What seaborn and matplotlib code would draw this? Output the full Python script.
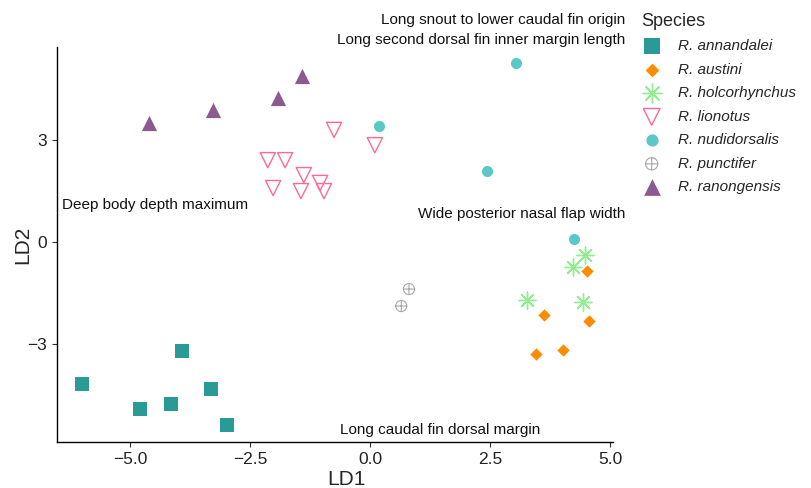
import pandas as pd
import matplotlib.pyplot as plt
from matplotlib.path import Path
import seaborn as sns

# LDA scores, one pair of lists per species
annandalei_ld1 = [-6.00, -4.79, -4.15, -3.92, -3.31, -2.98]
annandalei_ld2 = [-4.18, -4.91, -4.76, -3.21, -4.32, -5.38]

austini_ld1 = [4.52, 3.63, 4.56, 4.02, 3.46]
austini_ld2 = [-0.85, -2.15, -2.32, -3.18, -3.29]

holcorhynchus_ld1 = [4.48, 4.23, 3.27, 4.44]
holcorhynchus_ld2 = [-0.38, -0.74, -1.71, -1.76]

lionotus_ld1 = [-0.75, 0.10, -2.13, -1.77, -1.38, -2.02, -1.44, -1.04, -0.96]
lionotus_ld2 = [3.30, 2.85, 2.41, 2.41, 1.97, 1.59, 1.50, 1.74, 1.50]

nudidorsalis_ld1 = [0.19, 3.04, 2.44, 4.25]
nudidorsalis_ld2 = [3.41, 5.26, 2.09, 0.09]

punctifer_ld1 = [0.81, 0.65]
punctifer_ld2 = [-1.38, -1.88]

ranongensis_ld1 = [-4.60, -3.27, -1.92, -1.42]
ranongensis_ld2 = [3.50, 3.88, 4.24, 4.88]

species = ["R. annandalei", "R. austini", "R. holcorhynchus", "R. lionotus",
           "R. nudidorsalis", "R. punctifer", "R. ranongensis"]
ld1_values = [annandalei_ld1, austini_ld1, holcorhynchus_ld1, lionotus_ld1,
              nudidorsalis_ld1, punctifer_ld1, ranongensis_ld1]
ld2_values = [annandalei_ld2, austini_ld2, holcorhynchus_ld2, lionotus_ld2,
              nudidorsalis_ld2, punctifer_ld2, ranongensis_ld2]

df = pd.concat([pd.DataFrame({"LD1": a, "LD2": b, "Species": sp})
                for sp, a, b in zip(species, ld1_values, ld2_values)],
               ignore_index=True)

# circle with a cross, like ggplot shape 10
circle_plus = Path.make_compound_path(
    Path.unit_circle(),
    Path([[-1, 0], [1, 0]], [Path.MOVETO, Path.LINETO]),
    Path([[0, -1], [0, 1]], [Path.MOVETO, Path.LINETO]),
)

styles = {
    "R. annandalei": dict(marker="s", color="#2a9a96", s=100, linewidth=0),
    "R. austini": dict(marker="D", color="#ff8c00", s=40, linewidth=0),
    "R. holcorhynchus": dict(marker=(8, 2, 0), color="#90ee90", s=150, linewidth=1.0),
    "R. lionotus": dict(marker="v", color="#ff6a95", s=120, facecolor="none",
                        edgecolor="#ff6a95", linewidth=1.0),
    "R. nudidorsalis": dict(marker="o", color="#5bc8c8", s=64, linewidth=0),
    "R. punctifer": dict(marker=circle_plus, color="#a8a8a8", s=64, facecolor="none",
                         edgecolor="#a8a8a8", linewidth=0.8),
    "R. ranongensis": dict(marker="^", color="#8b5a8f", s=120, linewidth=0),
}

sns.set_style("ticks")
plt.rcParams["font.family"] = ["Liberation Sans", "DejaVu Sans"]

fig = plt.figure(figsize=(8.11, 4.88), dpi=100)
ax = fig.add_axes([57 / 811, 1 - 442 / 488, (613 - 57) / 811, (442 - 47) / 488])

for sp in species:
    sub = df[df["Species"] == sp]
    sns.scatterplot(data=sub, x="LD1", y="LD2", ax=ax, label=sp, **styles[sp])

ax.set_xlim(-6.52, 5.06)
ax.set_ylim(-5.88, 5.74)
ax.set_xticks([-5, -2.5, 0, 2.5, 5])
ax.set_xticklabels(["\u22125.0", "\u22122.5", "0.0", "2.5", "5.0"])
ax.set_yticks([-3, 0, 3])
ax.set_yticklabels(["\u22123", "0", "3"])
ax.tick_params(labelsize=12.5, labelcolor="#222222", color="#333333",
               length=3.5, width=0.8, pad=4)
ax.set_xlabel("LD1", fontsize=15)
ax.set_ylabel("LD2", fontsize=15)
ax.xaxis.set_label_coords(0.52, -0.071)
ax.yaxis.set_label_coords(-0.045, 0.5)
for side in ["left", "bottom"]:
    ax.spines[side].set_linewidth(1.0)
    ax.spines[side].set_color("black")
sns.despine(ax=ax)

# variable loadings written on the plot
notes = [
    ("Long snout to lower caudal fin origin", 5.31, 6.53, "right"),
    ("Long second dorsal fin inner margin length", 5.31, 5.95, "right"),
    ("Deep body depth maximum", -6.42, 1.09, "left"),
    ("Wide posterior nasal flap width", 5.31, 0.82, "right"),
    ("Long caudal fin dorsal margin", 1.46, -5.53, "center"),
]
for txt, x, y, ha in notes:
    ax.text(x, y, txt, ha=ha, va="center", fontsize=11, color="#111111",
            clip_on=False)

ax.get_legend().remove()
handles, labels = ax.get_legend_handles_labels()
leg = fig.legend(handles, labels, title="Species", loc="upper left",
                 bbox_to_anchor=(641 / 811, 1 - 13 / 488), frameon=False,
                 fontsize=11, title_fontsize=13, alignment="left",
                 borderpad=0, borderaxespad=0, handlelength=1.4,
                 handletextpad=1.0, labelspacing=0.62, markerscale=1.1)
for t in leg.get_texts():
    t.set_fontstyle("italic")

fig.savefig("out.png", dpi=100)
